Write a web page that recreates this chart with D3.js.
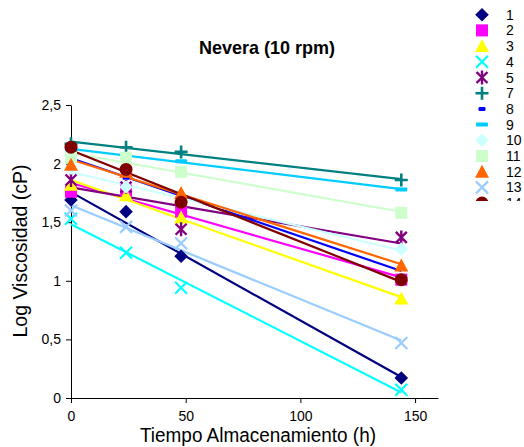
<!DOCTYPE html>
<html>
<head>
<meta charset="utf-8">
<script src="https://cdn.jsdelivr.net/npm/d3@7"></script>
<style>
  body { margin: 0; background: #fff; }
  text { font-family: "Liberation Sans", Arial, sans-serif; fill: #000; }
</style>
</head>
<body>
<script>
// Nevera (10 rpm): log viscosity vs storage time, linear trendlines

var times = [0, 24, 48, 144];

var seriesNames = ["1", "2", "3", "4", "5", "7", "8", "9", "10", "11", "12", "13", "14"];
var colors = ["#000080", "#ff00ff", "#ffff00", "#00ffff", "#800080", "#008080", "#0000ff",
              "#00ccff", "#ccffff", "#ccffcc", "#ff6600", "#99ccff", "#800000"];
var markers = ["diamond", "square", "triangle", "x", "star", "plus", "dash", "longdash",
               "diamond", "square", "triangle", "x", "circle"];

var s1  = [1.69, 1.59, 1.21, 0.17];
var s2  = [1.76, 1.77, 1.59, 1.01];
var s3  = [1.82, 1.73, 1.54, 0.85];
var s4  = [1.53, 1.24, 0.94, 0.07];
var s5  = [1.86, 1.80, 1.44, 1.37];
var s7  = [2.17, 2.14, 2.10, 1.86];
var s8  = [2.08, 1.88, 1.68, 1.10];
var s9  = [2.12, 2.07, 2.02, 1.78];
var s10 = [1.96, 1.80, 1.68, 1.27];
var s11 = [2.05, 2.05, 1.93, 1.58];
var s12 = [1.99, 1.93, 1.75, 1.13];
var s13 = [1.60, 1.46, 1.32, 0.47];
var s14 = [2.14, 1.95, 1.67, 1.01];
var values = [s1, s2, s3, s4, s5, s7, s8, s9, s10, s11, s12, s13, s14];

var xTicks = [0, 50, 100, 150];
var yTicks = [0, 0.5, 1, 1.5, 2, 2.5];

var width = 524, height = 447;
var margin = {top: 105, right: 86, bottom: 49, left: 71};

var svg = d3.select("body").append("svg")
    .attr("width", width)
    .attr("height", height);

var x = d3.scaleLinear().domain([0, 160]).range([margin.left, width - margin.right]);
var y = d3.scaleLinear().domain([0, 2.5]).range([height - margin.bottom, margin.top]);

// axes
var xAxis = svg.append("g")
    .attr("transform", "translate(0," + y(0) + ")")
    .call(d3.axisBottom(x).tickValues(xTicks).tickSize(5).tickPadding(8).tickSizeOuter(0));
var yAxis = svg.append("g")
    .attr("transform", "translate(" + x(0) + ",0)")
    .call(d3.axisLeft(y).tickValues(yTicks).tickSize(5).tickPadding(5).tickSizeOuter(0)
      .tickFormat(function(d) { return String(d).replace(".", ","); }));

[xAxis, yAxis].forEach(function(a) {
  a.select(".domain").attr("stroke", "#000").attr("stroke-width", 1);
  a.selectAll(".tick line").attr("stroke", "#000");
  a.selectAll(".tick text").style("font-size", "14px").attr("fill", "#000");
});

// linear regression for each series
function fit(vals) {
  var mt = d3.mean(times), mv = d3.mean(vals);
  var num = d3.sum(times, function(t, i) { return (t - mt) * (vals[i] - mv); });
  var den = d3.sum(times, function(t) { return (t - mt) * (t - mt); });
  var b = num / den;
  return {a: mv - b * mt, b: b};
}

var tEnd = d3.max(times);
values.forEach(function(vals, i) {
  var f = fit(vals);
  svg.append("line")
    .attr("x1", x(0)).attr("y1", y(f.a))
    .attr("x2", x(tEnd)).attr("y2", y(f.a + f.b * tEnd))
    .attr("stroke", colors[i])
    .attr("stroke-width", 2.2);
});

function drawMarker(g, type, color) {
  if (type == "diamond") {
    g.append("rect").attr("x", -4.8).attr("y", -4.8).attr("width", 9.6).attr("height", 9.6)
      .attr("transform", "rotate(45)").attr("fill", color);
  } else if (type == "square") {
    g.append("rect").attr("x", -6).attr("y", -6).attr("width", 12).attr("height", 12).attr("fill", color);
  } else if (type == "triangle") {
    g.append("path").attr("d", "M0,-7L7,6L-7,6Z").attr("fill", color);
  } else if (type == "x") {
    g.append("path").attr("d", "M-6,-6L6,6M-6,6L6,-6").attr("stroke", color).attr("stroke-width", 2.2);
  } else if (type == "star") {
    g.append("path").attr("d", "M-5.5,-5.5L5.5,5.5M-5.5,5.5L5.5,-5.5M0,-7L0,7")
      .attr("stroke", color).attr("stroke-width", 2.4);
  } else if (type == "plus") {
    g.append("path").attr("d", "M-6.5,0L6.5,0M0,-6.5L0,6.5").attr("stroke", color).attr("stroke-width", 2.6);
  } else if (type == "dash") {
    g.append("rect").attr("x", -3.5).attr("y", -2).attr("width", 7).attr("height", 4).attr("rx", 1).attr("fill", color);
  } else if (type == "longdash") {
    g.append("rect").attr("x", -6).attr("y", -2).attr("width", 12).attr("height", 4).attr("rx", 1).attr("fill", color);
  } else if (type == "circle") {
    g.append("circle").attr("r", 6.5).attr("fill", color);
  }
}

// data markers
values.forEach(function(vals, i) {
  vals.forEach(function(v, j) {
    var g = svg.append("g").attr("transform", "translate(" + x(times[j]) + "," + y(v) + ")");
    drawMarker(g, markers[i], colors[i]);
  });
});

// title and axis titles
svg.append("text")
    .attr("x", 267).attr("y", 54)
    .attr("text-anchor", "middle")
    .attr("textLength", 136).attr("lengthAdjust", "spacingAndGlyphs")
    .style("font-size", "19px").style("font-weight", "bold")
    .text("Nevera (10 rpm)");

svg.append("text")
    .attr("x", 258).attr("y", 442)
    .attr("text-anchor", "middle")
    .attr("textLength", 236).attr("lengthAdjust", "spacingAndGlyphs")
    .style("font-size", "20px")
    .text("Tiempo Almacenamiento (h)");

svg.append("text")
    .attr("transform", "translate(27,251) rotate(-90)")
    .attr("text-anchor", "middle")
    .attr("textLength", 173).attr("lengthAdjust", "spacingAndGlyphs")
    .style("font-size", "20px")
    .text("Log Viscosidad (cP)");

// legend (bottom row clipped like the original)
svg.append("clipPath").attr("id", "legclip")
  .append("rect").attr("x", 460).attr("y", 0).attr("width", 64).attr("height", 201);

var legend = svg.append("g").attr("clip-path", "url(#legclip)");
seriesNames.forEach(function(name, i) {
  var ly = 14.7 + i * 15.7;
  var g = legend.append("g").attr("transform", "translate(482," + ly + ")");
  drawMarker(g, markers[i], colors[i]);
  legend.append("text")
    .attr("x", 506).attr("y", ly + 5)
    .style("font-size", "14px")
    .text(name);
});
</script>
</body>
</html>
